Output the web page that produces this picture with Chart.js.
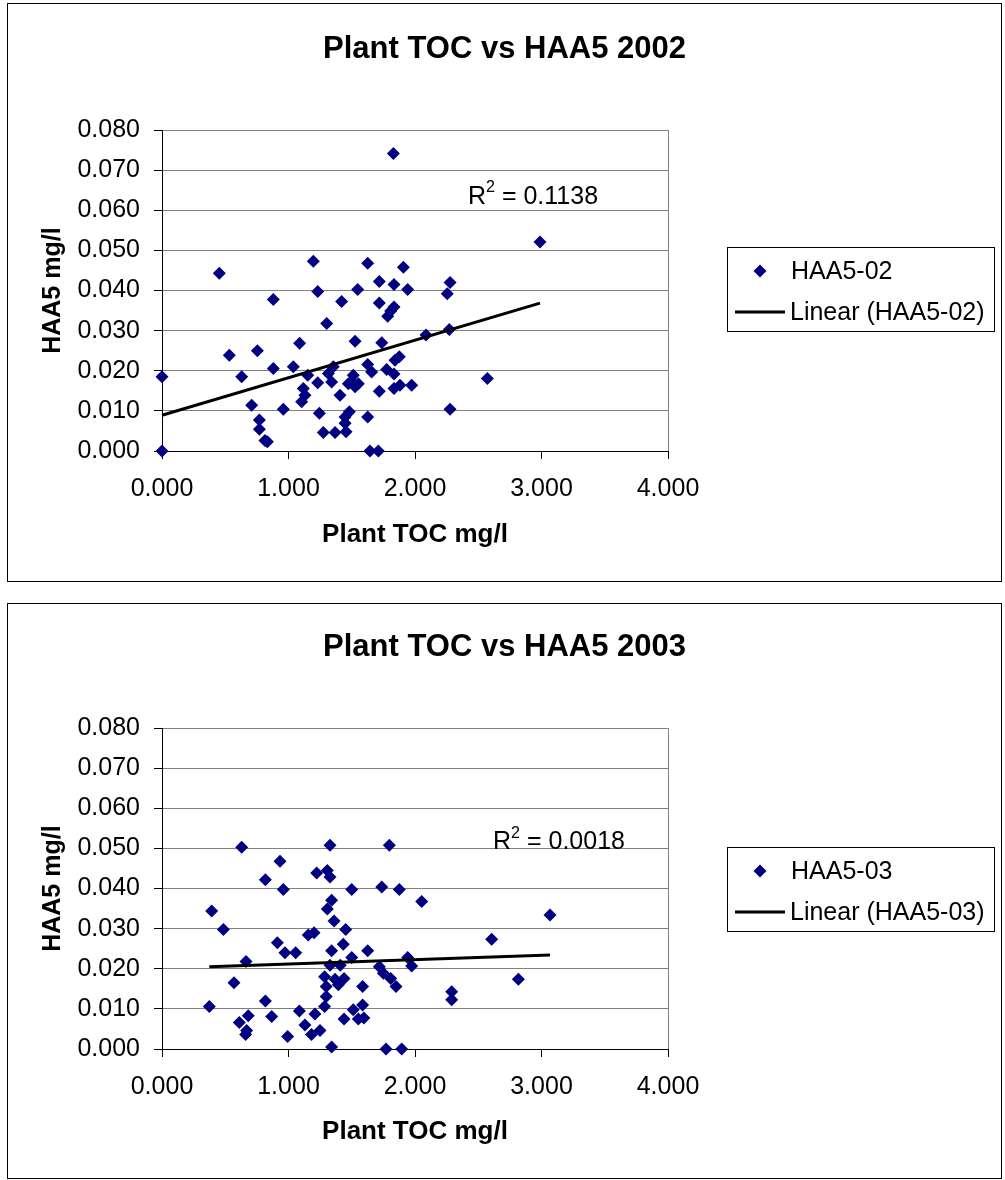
<!DOCTYPE html>
<html><head><meta charset="utf-8">
<script src="https://cdn.jsdelivr.net/npm/chart.js@4.4.1/dist/chart.umd.min.js"></script>
<style>
html,body{margin:0;padding:0;background:#fff}
body{width:1005px;height:1180px;position:relative;overflow:hidden}
.box{position:absolute;left:7px;width:993px;border:1px solid #000;background:#fff}
#b1{top:3px;height:577px}
#b2{top:603px;height:574px}
canvas{display:block}
</style></head><body>
<div class="box" id="b1"><canvas id="c1" width="993" height="577"></canvas></div>
<div class="box" id="b2"><canvas id="c2" width="993" height="574"></canvas></div>
<script>
// ---- data (Plant TOC mg/l vs HAA5 mg/l) ----
const toc02 = [0.000,0.000,0.453,0.532,0.630,0.709,0.754,0.770,0.770,0.814,0.833,0.880,0.880,0.959,1.038,1.088,1.104,1.117,1.130,1.152,1.196,1.231,1.231,1.244,1.275,1.302,1.315,1.341,1.354,1.368,1.407,1.420,1.447,1.447,1.455,1.473,1.481,1.500,1.512,1.526,1.526,1.547,1.552,1.626,1.626,1.626,1.644,1.657,1.710,1.718,1.718,1.718,1.737,1.776,1.784,1.808,1.829,1.834,1.834,1.834,1.834,1.842,1.876,1.881,1.908,1.942,1.974,2.087,2.255,2.271,2.277,2.277,2.572,2.988];
const haa02 = [0.0185,0.0000,0.0443,0.0239,0.0185,0.0114,0.0250,0.0077,0.0054,0.0026,0.0023,0.0378,0.0206,0.0104,0.0210,0.0269,0.0123,0.0156,0.0139,0.0189,0.0473,0.0398,0.0170,0.0094,0.0046,0.0318,0.0193,0.0172,0.0210,0.0046,0.0139,0.0373,0.0085,0.0069,0.0048,0.0168,0.0098,0.0172,0.0189,0.0274,0.0160,0.0403,0.0168,0.0468,0.0216,0.0085,0.0000,0.0197,0.0000,0.0423,0.0369,0.0149,0.0270,0.0203,0.0336,0.0349,0.0742,0.0415,0.0359,0.0192,0.0156,0.0226,0.0235,0.0164,0.0458,0.0403,0.0164,0.0289,0.0392,0.0303,0.0420,0.0104,0.0181,0.0521];

const toc03 = [0.374,0.393,0.485,0.569,0.611,0.630,0.661,0.664,0.669,0.682,0.817,0.817,0.867,0.912,0.933,0.959,0.972,0.993,1.057,1.086,1.130,1.156,1.182,1.202,1.209,1.223,1.249,1.285,1.285,1.298,1.298,1.307,1.307,1.328,1.328,1.328,1.341,1.341,1.341,1.360,1.368,1.394,1.409,1.433,1.439,1.439,1.452,1.500,1.500,1.512,1.552,1.586,1.586,1.596,1.626,1.718,1.737,1.750,1.771,1.797,1.808,1.850,1.876,1.895,1.942,1.974,2.053,2.290,2.290,2.606,2.817,3.067];
const haa03 = [0.0106,0.0344,0.0298,0.0165,0.0066,0.0503,0.0036,0.0218,0.0046,0.0083,0.0422,0.0120,0.0081,0.0265,0.0468,0.0398,0.0240,0.0031,0.0240,0.0095,0.0060,0.0284,0.0036,0.0290,0.0087,0.0439,0.0046,0.0180,0.0106,0.0156,0.0131,0.0445,0.0349,0.0508,0.0429,0.0209,0.0371,0.0245,0.0005,0.0319,0.0174,0.0160,0.0209,0.0261,0.0176,0.0075,0.0298,0.0398,0.0228,0.0098,0.0075,0.0156,0.0110,0.0077,0.0245,0.0205,0.0404,0.0189,0.0000,0.0508,0.0176,0.0156,0.0398,0.0000,0.0228,0.0207,0.0368,0.0143,0.0123,0.0274,0.0174,0.0334];

const xTickValues = [0, 1, 2, 3, 4];
const yTickValues = [0, 0.01, 0.02, 0.03, 0.04, 0.05, 0.06, 0.07, 0.08];
const r2Labels = ['0.1138', '0.0018'];

const FONT = '"Liberation Sans", Arial, sans-serif';
const NAVY = '#000080';
const GRID = '#808080';

function regression(xs, ys) {
  const n = xs.length;
  let sx = 0, sy = 0, sxx = 0, sxy = 0;
  for (let i = 0; i < n; i++) { sx += xs[i]; sy += ys[i]; sxx += xs[i]*xs[i]; sxy += xs[i]*ys[i]; }
  const slope = (n*sxy - sx*sy) / (n*sxx - sx*sx);
  return { slope, icpt: (sy - slope*sx) / n };
}

function diamond(ctx, x, y, r, color) {
  ctx.beginPath();
  ctx.moveTo(x, y - r); ctx.lineTo(x + r, y); ctx.lineTo(x, y + r); ctx.lineTo(x - r, y);
  ctx.closePath(); ctx.fillStyle = color; ctx.fill();
}

function build(id, xs, ys, cfg) {
  const pts = xs.map((x, i) => ({ x: x, y: ys[i] }));
  const reg = regression(xs, ys);
  const xmin = Math.min(...xs), xmax = Math.max(...xs);
  const trend = [{ x: xmin, y: reg.icpt + reg.slope*xmin }, { x: xmax, y: reg.icpt + reg.slope*xmax }];

  const extras = {
    id: 'extras' + id,
    afterDraw(chart) {
      const ctx = chart.ctx;
      ctx.save();
      // legend box
      const L = { x0: 719, y0: 243, x1: 986, y1: 327 };
      ctx.strokeStyle = '#000'; ctx.lineWidth = 1;
      ctx.strokeRect(L.x0 + 0.5, L.y0 + 0.5, L.x1 - L.x0, L.y1 - L.y0);
      diamond(ctx, 752, 267, 6.5, NAVY);
      ctx.strokeStyle = '#000'; ctx.lineWidth = 3;
      ctx.beginPath(); ctx.moveTo(727, 308); ctx.lineTo(777, 308); ctx.stroke();
      ctx.fillStyle = '#000'; ctx.textBaseline = 'middle'; ctx.textAlign = 'left';
      ctx.font = '25px ' + FONT;
      ctx.fillText(cfg.series, 783, 268);
      ctx.fillText('Linear (' + cfg.series + ')', 782, 309);
      // R squared label
      const xs_ = chart.scales.x, ys_ = chart.scales.y;
      let px = xs_.getPixelForValue(cfg.r2x), py = ys_.getPixelForValue(cfg.r2y);
      ctx.font = '25px ' + FONT;
      ctx.fillText('R', px, py);
      px += ctx.measureText('R').width;
      ctx.font = '16px ' + FONT;
      ctx.fillText('2', px, py - 9);
      px += ctx.measureText('2').width;
      ctx.font = '25px ' + FONT;
      ctx.fillText(' = ' + cfg.r2, px, py);
      ctx.restore();
    }
  };

  return new Chart(document.getElementById(id), {
    type: 'scatter',
    data: { datasets: [
      { label: cfg.series, data: pts, pointStyle: 'rectRot', pointRadius: 6.5, pointHoverRadius: 6.5,
        backgroundColor: NAVY, borderColor: NAVY, borderWidth: 0, clip: false, order: 2 },
      { type: 'line', label: 'Linear (' + cfg.series + ')', data: trend, borderColor: '#000', borderWidth: 3,
        pointRadius: 0, fill: false, clip: false, order: 1 }
    ]},
    options: {
      responsive: false, animation: false, events: [],
      layout: { padding: 0 },
      plugins: {
        legend: { display: false }, tooltip: { enabled: false },
        title: { display: true, text: cfg.title, color: '#000',
          font: { family: FONT, size: 31, weight: 'bold' }, padding: { top: cfg.titleTop, bottom: cfg.titleBottom } }
      },
      scales: {
        x: {
          type: 'linear', min: 0, max: 4,
          afterBuildTicks: s => { s.ticks = xTickValues.map(v => ({ value: v })); },
          afterFit: s => { s.height = cfg.xHeight; },
          ticks: { color: '#000', font: { family: FONT, size: 25 }, padding: 15,
            callback: v => Number(v).toFixed(3) },
          grid: { color: c => (c.tick && c.tick.value === 4) ? GRID : 'rgba(0,0,0,0)', tickColor: '#000',
            tickLength: 8, lineWidth: 1 },
          border: { color: '#000', width: 1 },
          title: { display: true, text: 'Plant TOC mg/l', color: '#000',
            font: { family: FONT, size: 26, weight: 'bold' }, padding: { top: 0, bottom: 31 } }
        },
        y: {
          type: 'linear', min: 0, max: 0.08,
          afterBuildTicks: s => { s.ticks = yTickValues.map(v => ({ value: v })); },
          afterFit: s => { s.width = 154; },
          ticks: { color: '#000', font: { family: FONT, size: 25 }, padding: 14,
            callback: v => Number(v).toFixed(3) },
          grid: { color: c => (c.tick && c.tick.value === 0) ? 'rgba(0,0,0,0)' : GRID, tickColor: '#000',
            tickLength: 8, lineWidth: 1 },
          border: { color: '#000', width: 1 },
          title: { display: true, text: 'HAA5 mg/l', color: '#000',
            font: { family: FONT, size: 25, weight: 'bold' }, padding: { top: 30, bottom: 0 } }
        },
        side: {
          type: 'linear', position: 'right', display: true,
          afterFit: s => { s.width = 333; },
          ticks: { display: false },
          grid: { display: false, drawTicks: false },
          border: { display: false },
          title: { display: false }
        }
      }
    },
    plugins: [extras]
  });
}

build('c1', toc02, haa02, { series: 'HAA5-02', title: 'Plant TOC vs HAA5 2002', titleTop: 27, titleBottom: 62,
  xHeight: 130, r2: r2Labels[0], r2x: 2.419, r2y: 0.0634 });
build('c2', toc03, haa03, { series: 'HAA5-03', title: 'Plant TOC vs HAA5 2003', titleTop: 25, titleBottom: 62,
  xHeight: 129, r2: r2Labels[1], r2x: 2.617, r2y: 0.0515 });
</script>
</body></html>
